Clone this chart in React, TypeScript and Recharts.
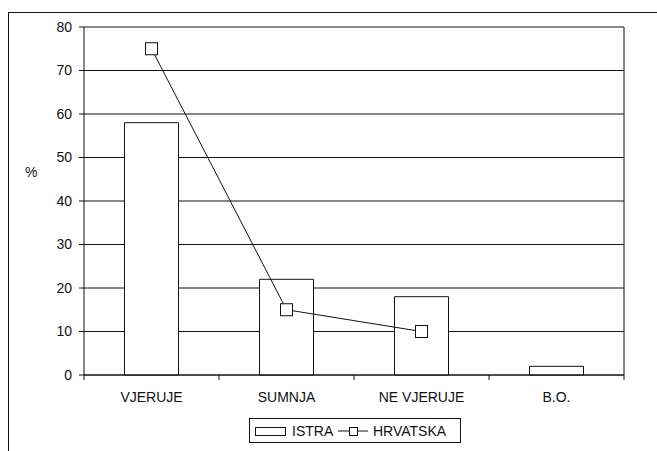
import React from "react";
import {
  ComposedChart,
  Bar,
  Line,
  XAxis,
  YAxis,
  CartesianGrid,
  Legend,
} from "recharts";

const categories = ["VJERUJE", "SUMNJA", "NE VJERUJE", "B.O."];
const istra = [58, 22, 18, 2];
const hrvatska: Array<number | null> = [75, 15, 10, null];
const yTicks = [0, 10, 20, 30, 40, 50, 60, 70, 80];
// rubovi kategorija (cijeli brojevi) i sredine (x.5) na brojčanoj osi
const xTicks = [0, 0.5, 1, 1.5, 2, 2.5, 3, 3.5, 4];

const data = categories.map((name, i) => ({
  name,
  pos: i + 0.5,
  ISTRA: istra[i],
  HRVATSKA: hrvatska[i],
}));

const FONT = "'Liberation Sans', Arial, sans-serif";
const tickStyle = { fill: "#111", fontSize: 14, fontFamily: FONT };

// kvadratni marker za HRVATSKA
const SquareDot = (props: any) => {
  const { cx, cy, value } = props;
  if (value == null || cx == null || cy == null) return null;
  return (
    <rect x={cx - 6} y={cy - 6} width={12} height={12} fill="#fff" stroke="#111" strokeWidth={1} />
  );
};

// cijeli broj -> crtica na rubu, pola -> naziv kategorije
const EdgeTick = (props: any) => {
  const { x, y, payload } = props;
  const v = payload.value as number;
  if (Number.isInteger(v)) {
    return <line x1={x} y1={y} x2={x} y2={y + 5} stroke="#111" />;
  }
  return (
    <text x={x} y={y + 27} textAnchor="middle" fill="#111" fontSize={14} fontFamily={FONT}>
      {categories[Math.floor(v)]}
    </text>
  );
};

const LegendBox = () => (
  <div
    style={{
      position: "relative",
      border: "1px solid #111",
      height: 25,
      width: 212,
      boxSizing: "border-box",
      fontFamily: FONT,
      fontSize: 14,
      color: "#111",
      background: "#fff",
    }}
  >
    <svg width={32} height={10} style={{ position: "absolute", left: 5, top: 8 }}>
      <rect x={0.5} y={0.5} width={30} height={8} fill="#fff" stroke="#111" />
    </svg>
    <span style={{ position: "absolute", left: 42, top: 4 }}>ISTRA</span>
    <svg width={31} height={10} style={{ position: "absolute", left: 88, top: 7 }}>
      <line x1={0} y1={5} x2={30} y2={5} stroke="#111" />
      <rect x={11.5} y={1.5} width={8} height={8} fill="#fff" stroke="#111" />
    </svg>
    <span style={{ position: "absolute", left: 123, top: 4 }}>HRVATSKA</span>
  </div>
);

export default function App() {
  return (
    <div
      style={{
        position: "fixed",
        left: 0,
        top: 0,
        width: 657,
        height: 451,
        overflow: "hidden",
        background: "#fff",
      }}
    >
      <div
        style={{
          position: "absolute",
          left: 8,
          top: 12,
          width: 700,
          height: 500,
          border: "1px solid #111",
        }}
      />
      <div style={{ position: "absolute", left: 0, top: 0 }}>
        <ComposedChart
          width={657}
          height={451}
          data={data}
          barCategoryGap="30%"
          margin={{ top: 27, right: 0, bottom: 36, left: 0 }}
        >
          <CartesianGrid vertical={false} stroke="#111" strokeWidth={1} yAxisId="left" />
          <XAxis dataKey="name" hide height={0} />
          <XAxis
            xAxisId="edges"
            type="number"
            dataKey="pos"
            domain={[0, 4]}
            allowDataOverflow
            ticks={xTicks}
            interval={0}
            tick={<EdgeTick />}
            tickSize={0}
            tickMargin={0}
            tickLine={false}
            axisLine={{ stroke: "#111" }}
            height={40}
          />
          <YAxis
            yAxisId="left"
            domain={[0, 80]}
            ticks={yTicks}
            width={84}
            tickSize={5}
            tickMargin={7}
            tick={tickStyle}
            axisLine={{ stroke: "#111" }}
            tickLine={{ stroke: "#111" }}
            label={{
              value: "%",
              position: "insideLeft",
              offset: 25,
              dy: -29,
              style: { fill: "#111", fontSize: 14, fontFamily: FONT },
            }}
          />
          <YAxis
            yAxisId="right"
            orientation="right"
            domain={[0, 80]}
            ticks={yTicks}
            width={33}
            tickSize={5}
            tickMargin={7}
            tick={tickStyle}
            axisLine={{ stroke: "#111" }}
            tickLine={{ stroke: "#111" }}
          />
          <Bar
            yAxisId="left"
            dataKey="ISTRA"
            fill="#fff"
            stroke="#111"
            strokeWidth={1}
            isAnimationActive={false}
          />
          <Line
            xAxisId="edges"
            yAxisId="left"
            type="linear"
            dataKey="HRVATSKA"
            stroke="#111"
            strokeWidth={1}
            dot={<SquareDot />}
            activeDot={false}
            connectNulls={false}
            isAnimationActive={false}
          />
          <Legend
            layout="horizontal"
            verticalAlign="middle"
            align="center"
            content={<LegendBox />}
            wrapperStyle={{ position: "absolute", left: 249, top: 418, width: 212, height: 25 }}
          />
        </ComposedChart>
      </div>
    </div>
  );
}
